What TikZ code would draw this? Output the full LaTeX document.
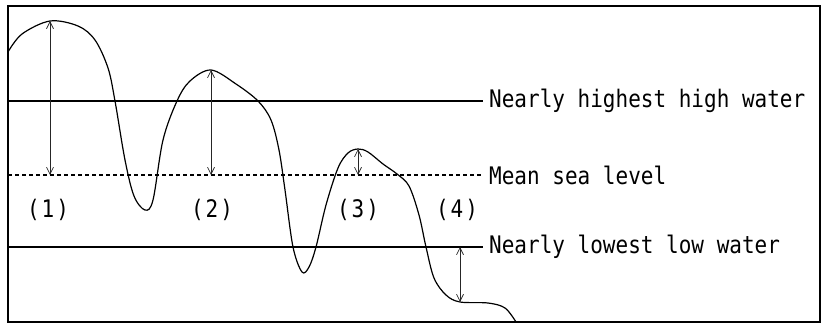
\documentclass[tikz,border=0pt]{standalone}
\usepackage{fontspec}
\newfontfamily\gothmono{DejaVu Sans Mono}
\usetikzlibrary{arrows.meta}
\newcommand\tallset[1]{\scalebox{1}[1.15]{#1}}

\begin{document}
\begin{tikzpicture}[
    x=1pt, y=-1pt,
    frame/.style={draw=black, line width=1.4pt},
    level/.style={draw=black, line width=1.2pt},
    meanlevel/.style={draw=black, line width=1.2pt, dash pattern=on 4pt off 3pt},
    shore/.style={draw=black, line width=1.2pt, line join=round},
    heightbar/.style={{Straight Barb[length=7pt,width=7pt]}-{Straight Barb[length=7pt,width=7pt]}, line width=0.7pt, draw=black!85},
    tag/.style={anchor=west, inner sep=0pt, font=\gothmono\fontsize{21}{25}\selectfont},
    idx/.style={inner sep=0pt, font=\gothmono\fontsize{21}{25}\selectfont},
]

\useasboundingbox (0,0) rectangle (823,326);

% ── Frame ────────────────────────────────────────────────────
\draw[frame] (8,6) rectangle (820,322);

% ── Reference levels ─────────────────────────────────────────
\coordinate (hw0) at (8,101);
\coordinate (hw1) at (483,101);
\coordinate (ms0) at (8,175);
\coordinate (ms1) at (483,175);
\coordinate (lw0) at (8,247);
\coordinate (lw1) at (483,247);

\draw[level]     (hw0) -- (hw1);
\draw[meanlevel] (ms0) -- (ms1);
\draw[level]     (lw0) -- (lw1);

\node[tag] (HW) at (489,101) {\tallset{Nearly highest high water}};
\node[tag] (MS) at (489,175) {\tallset{Mean sea level}};
\node[tag] (LW) at (489,247) {\tallset{Nearly lowest low water}};

% ── Shore profile ────────────────────────────────────────────
\draw[shore] plot[smooth, tension=0.55] coordinates {
    (8,52) (22,34) (50,21) (78,26) (95,40) (108,68) (115,101)
    (125,160) (134,196) (145,210) (153,200) (163,140) (177,101)
    (190,81) (211,70) (236,84) (258,101) (271,120) (279,150)
    (285,190) (293,247) (302,272) (309,267) (316,247) (326,205)
    (338,168) (348,153) (358,149) (368,152) (383,164) (397,174)
    (409,186) (419,215) (426,247) (434,278) (446,295) (460,302)
    (488,303) (505,308) (516,322)
};

% ── Heights above mean sea level ─────────────────────────────
\coordinate (p1) at (50,21);
\coordinate (p2) at (211,70);
\coordinate (p3) at (358,149);
\coordinate (p4) at (460,302);
\coordinate (m1) at (50,175);
\coordinate (m2) at (211,175);
\coordinate (m3) at (358,175);
\coordinate (m4) at (460,247);

\draw[heightbar] (p1) -- (m1);
\draw[heightbar] (p2) -- (m2);
\draw[heightbar] (p3) -- (m3);
\draw[heightbar] (m4) -- (p4);

% ── Case numbers ─────────────────────────────────────────────
\node[idx] (c1) at (48,210)  {\tallset{(\kern2pt1\kern2pt)}};
\node[idx] (c2) at (212,210) {\tallset{(\kern2pt2\kern2pt)}};
\node[idx] (c3) at (358,210) {\tallset{(\kern2pt3\kern2pt)}};
\node[idx] (c4) at (457,210) {\tallset{(\kern2pt4\kern2pt)}};

\end{tikzpicture}
\end{document}
